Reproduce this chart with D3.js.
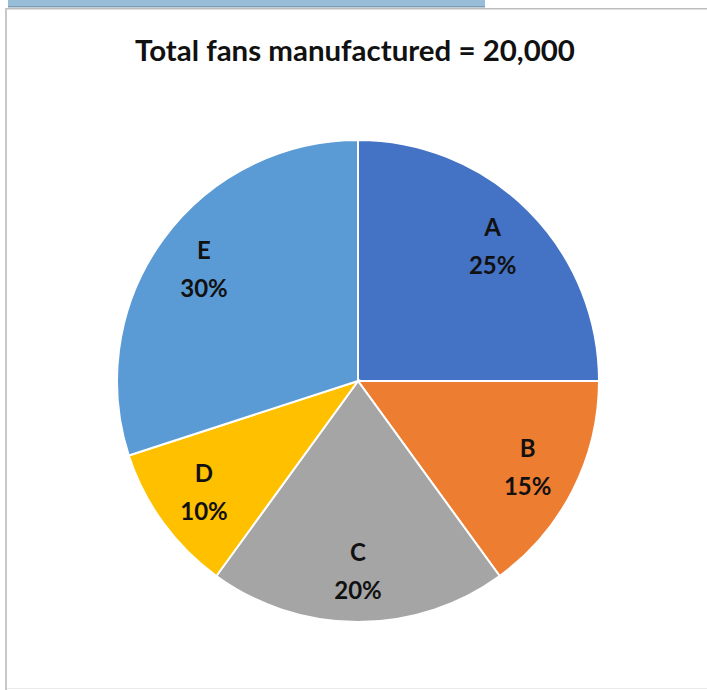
<!DOCTYPE html>
<html><head><meta charset="utf-8">
<script src="https://cdn.jsdelivr.net/npm/d3@7"></script>
<style>html,body{margin:0;padding:0;background:#fff;overflow:hidden}</style>
</head><body>
<svg id="c" width="707" height="690"></svg>
<script>
const categories = ["A", "B", "C", "D", "E"];
const shares = [25, 15, 20, 10, 30];
const colors = ["#4472C4", "#ED7D31", "#A5A5A5", "#FFC000", "#5B9BD5"];
const title = "Total fans manufactured = 20,000";

const svg = d3.select("#c");
// frame decorations
svg.append("rect").attr("x", 8).attr("y", 0).attr("width", 477).attr("height", 7).attr("fill", "#97BDD9");
svg.append("rect").attr("x", 8).attr("y", 6).attr("width", 477).attr("height", 1.5).attr("fill", "#7E9DB5");
svg.append("rect").attr("x", 5).attr("y", 8).attr("width", 702).attr("height", 1.5).attr("fill", "#BDBDBD");
svg.append("rect").attr("x", 5).attr("y", 8).attr("width", 2).attr("height", 682).attr("fill", "#C8C8C8");
svg.append("rect").attr("x", 7).attr("y", 688).attr("width", 700).attr("height", 1).attr("fill", "#EBEBEB");

const font = "Lato, 'Open Sans', sans-serif";
const t = svg.append("text").attr("x", 355).attr("y", 61).attr("text-anchor", "middle")
  .attr("font-family", font).attr("font-weight", "bold")
  .attr("font-size", 24).attr("fill", "#111").text(title);
const w = t.node().getComputedTextLength();
t.attr("font-size", 24 * 440 / w);

const cx = 358, cy = 381, r = 241;
const data = categories.map((c, i) => ({cat: c, v: shares[i], color: colors[i]}));
const pie = d3.pie().value(d => d.v).sort(null);
const arc = d3.arc().innerRadius(0).outerRadius(r);
const labelArc = d3.arc().innerRadius(r * 0.79).outerRadius(r * 0.79);
const g = svg.append("g").attr("transform", `translate(${cx},${cy})`);
const arcs = pie(data);
g.selectAll("path").data(arcs).join("path")
  .attr("d", arc).attr("fill", d => d.data.color)
  .attr("stroke", "#fff").attr("stroke-width", 2);
const lbl = g.selectAll("g.l").data(arcs).join("g").attr("class", "l")
  .attr("transform", d => `translate(${labelArc.centroid(d)})`);
lbl.append("text").attr("text-anchor", "middle").attr("y", -10.5)
  .attr("font-family", font).attr("font-weight", "bold")
  .attr("font-size", 24).attr("fill", "#111").text(d => d.data.cat);
lbl.append("text").attr("text-anchor", "middle").attr("y", 27.5)
  .attr("font-family", font).attr("font-weight", "bold")
  .attr("font-size", 24).attr("fill", "#111").text(d => d.data.v + "%");
</script>
</body></html>
